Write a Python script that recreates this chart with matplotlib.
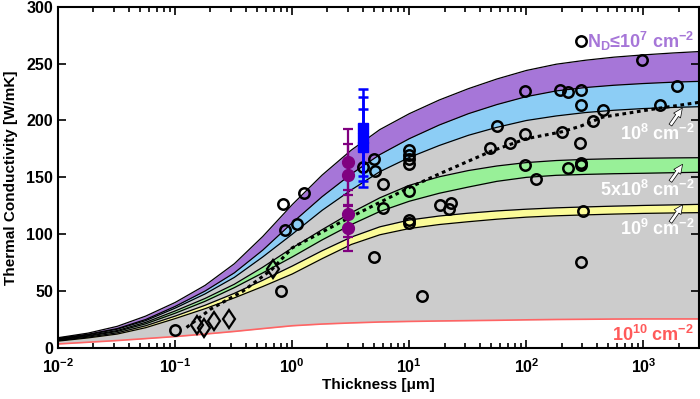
import matplotlib
matplotlib.use("Agg")
import matplotlib.pyplot as plt

# model curves (thickness in um, k in W/mK)
thk = [0.01, 0.018, 0.032, 0.056, 0.1, 0.18, 0.32, 0.56, 1, 1.8, 3.2, 5.6,
       10, 18, 32, 56, 100, 180, 320, 560, 1000, 1800, 3200]
k_top = [9, 13, 19, 28, 40, 55, 74, 98, 126, 152, 174, 192,
         206, 218, 228, 236.5, 244, 249.5, 253, 255.7, 257.7, 259.4, 260.8]
k_1e7 = [8.5, 12, 17, 25, 36.5, 50, 66, 86, 110, 133, 153, 170,
         184, 196, 206, 214, 221, 226, 229, 231, 232.5, 233.7, 234.5]
k_1e8 = [8, 11.5, 16.5, 24, 35, 47.5, 62, 80, 100, 121, 139, 155,
         167.5, 178, 187, 194, 200, 204, 207, 209, 210.5, 211.5, 212.2]
k_5e8_hi = [7.5, 10.8, 15.3, 22.5, 32.5, 43.5, 56, 71, 88, 104, 119, 132,
            143, 150.5, 156, 160, 163, 164.8, 165.8, 166.4, 166.8, 167.1, 167.3]
k_5e8_lo = [7, 10.3, 14.5, 21.2, 30.5, 41, 53, 66, 80, 95, 108.5, 120,
            129, 136, 141.5, 146.5, 150, 151.8, 152.6, 153.2, 153.6, 154.1, 154.5]
k_1e9_hi = [6.5, 9.5, 13.3, 19.5, 28, 37.5, 48, 59.5, 72, 85.5, 97.5, 106.5,
            112.5, 116, 118.5, 120.5, 122, 123.2, 124, 124.7, 125.3, 125.8, 126.3]
k_1e9_lo = [6, 8.8, 12.2, 17.8, 25.8, 34.5, 44, 54, 65, 78.5, 91, 99.5,
            105, 108.5, 111, 113.2, 115, 116.2, 117, 117.7, 118.3, 118.7, 119]
k_1e10 = [3.5, 5, 6.5, 8.2, 10, 12.2, 14.5, 17, 19.5, 21, 22, 22.8,
          23.3, 23.7, 24, 24.3, 24.7, 25, 25.2, 25.4, 25.5, 25.5, 25.5]

# trend line (dotted)
trend_x = [0.125, 0.2, 0.38, 0.67, 1.0, 3.0, 10, 18, 50, 100, 200, 290, 450, 1400, 3000]
trend_y = [18, 34, 50, 69, 88, 114, 141, 153, 173, 184, 190, 195, 203, 211, 216]

# measured data, open circles
circ_x = [0.1, 0.805, 0.83, 0.86, 1.1, 1.25, 4.0, 4.98, 5.05, 6.0, 5.94, 4.98,
          10, 10, 10, 10, 10, 10, 10, 12.9, 18.2, 22.9, 22, 56, 49, 73,
          97, 97, 97, 195, 227, 291, 291, 291, 452, 371, 200, 286, 291, 291,
          227, 122, 305, 295, 980, 1950, 1380]
circ_y = [15.8, 49.7, 127, 103.5, 109.4, 136, 159, 165.8, 155.5, 144.5, 123.4, 80,
          174, 170, 166, 162, 138, 112.5, 110.3, 45.9, 125.4, 127.2, 122, 195.6, 175.4, 180.4,
          226.3, 188.3, 160.5, 227.2, 225.2, 227.2, 269.6, 213.4, 209.6, 199.4, 190, 179.8, 162.9, 160.5,
          157.9, 148.2, 120.4, 76, 253.5, 230, 213.2]

# diamonds
diam_x = [0.155, 0.175, 0.215, 0.29, 0.68]
diam_y = [20, 17.5, 24, 25.5, 69.5]

# purple points with error bars
pur_x = [3.0, 3.0, 3.0, 3.0]
pur_y = [163.8, 152, 118.2, 105.3]
pur_err = [29, 27, 21, 20]

# blue points with asymmetric error bars
blu_x = [4.0, 4.0, 4.0]
blu_y = [193, 185, 177]
blu_err_lo = [51.2, 38.2, 25.9]
blu_err_hi = [34.8, 35.8, 33.3]

xtick_pos = [0.01, 0.1, 1, 10, 100, 1000]
xtick_labels = [r'$10^{-2}$', r'$10^{-1}$', r'$10^{0}$', r'$10^{1}$', r'$10^{2}$', r'$10^{3}$']
ytick_pos = [0, 50, 100, 150, 200, 250, 300]

plt.rcParams['font.family'] = 'Liberation Sans'
plt.rcParams['font.weight'] = 'bold'
plt.rcParams['mathtext.fontset'] = 'custom'
plt.rcParams['mathtext.rm'] = 'Liberation Sans:bold'
plt.rcParams['mathtext.default'] = 'rm'

fig = plt.figure(figsize=(7, 3.99), dpi=100)
ax = fig.add_axes([0.083, 0.128, 0.916, 0.855])

purple = '#a676d8'
blue = '#8ccdf5'
gray = '#cccccc'
green = '#98f098'
yellow = '#fbfb98'

ax.fill_between(thk, k_1e10, k_1e8, color=gray, lw=0)
ax.fill_between(thk, k_1e7, k_top, color=purple, lw=0)
ax.fill_between(thk, k_1e8, k_1e7, color=blue, lw=0)
ax.fill_between(thk, k_5e8_lo, k_5e8_hi, color=green, lw=0)
ax.fill_between(thk, k_1e9_lo, k_1e9_hi, color=yellow, lw=0)

for k in [k_top, k_1e7, k_1e8, k_5e8_hi, k_5e8_lo, k_1e9_hi, k_1e9_lo]:
    ax.plot(thk, k, color='black', lw=0.9)
ax.plot(thk, k_1e10, color='#ff6464', lw=1.2)

ax.plot(trend_x, trend_y, color='black', lw=2.2, linestyle=(0, (1.2, 1.2)))

ax.plot(circ_x, circ_y, 'o', mfc='none', mec='black', mew=1.8, ms=7.5, ls='none')
ax.plot(diam_x, diam_y, 'd', mfc='none', mec='black', mew=1.6, ms=9.5, ls='none')

ax.errorbar(pur_x, pur_y, yerr=pur_err, fmt='o', color='#800080', ms=8.5,
            elinewidth=1.6, capsize=3.5, capthick=1.6)
ax.errorbar(blu_x, blu_y, yerr=[blu_err_lo, blu_err_hi], fmt='s', color='#0000ff', ms=7,
            elinewidth=1.8, capsize=3.5, capthick=1.8)

# labels for each dislocation density
lab_kw = dict(ha='right', va='baseline', fontsize=13, fontweight='bold')
ax.text(2750, 264, r'N$_{\mathrm{D}}$≤10$^{7}$ cm$^{-2}$', color='#a676d8', **lab_kw)
ax.text(2750, 183, r'10$^{8}$ cm$^{-2}$', color='white', **lab_kw)
ax.text(2750, 134, r'5x10$^{8}$ cm$^{-2}$', color='white', **lab_kw)
ax.text(2750, 99, r'10$^{9}$ cm$^{-2}$', color='white', **lab_kw)
ax.text(2700, 6, r'10$^{10}$ cm$^{-2}$', color='#ff5a5a', **lab_kw)

arrow_kw = dict(arrowstyle='simple,head_width=0.55,head_length=0.6,tail_width=0.22',
                fc='white', ec='black', lw=0.5, shrinkA=0, shrinkB=0, mutation_scale=11)
ax.annotate('', xy=(2150, 211), xytext=(1700, 196), arrowprops=arrow_kw)
ax.annotate('', xy=(2160, 161.5), xytext=(1700, 146.5), arrowprops=arrow_kw)
ax.annotate('', xy=(2170, 126), xytext=(1700, 110.5), arrowprops=arrow_kw)

ax.set_xscale('log')
ax.set_xlim(0.01, 3000)
ax.set_ylim(0, 300)
ax.set_xticks(xtick_pos)
ax.set_xticklabels(xtick_labels)
ax.set_yticks(ytick_pos)
ax.tick_params(which='both', direction='in', top=True, right=True, labelsize=11.5, width=1.2)
ax.tick_params(which='major', length=6)
ax.tick_params(which='minor', length=3.5)
ax.tick_params(axis='x', pad=7)
for s in ax.spines.values():
    s.set_linewidth(1.5)

ax.set_xlabel('Thickness [μm]', fontsize=11, fontweight='bold', labelpad=1)
ax.set_ylabel('Thermal Conductivity [W/mK]', fontsize=11, fontweight='bold', labelpad=6)

fig.savefig('out.png', dpi=100)
